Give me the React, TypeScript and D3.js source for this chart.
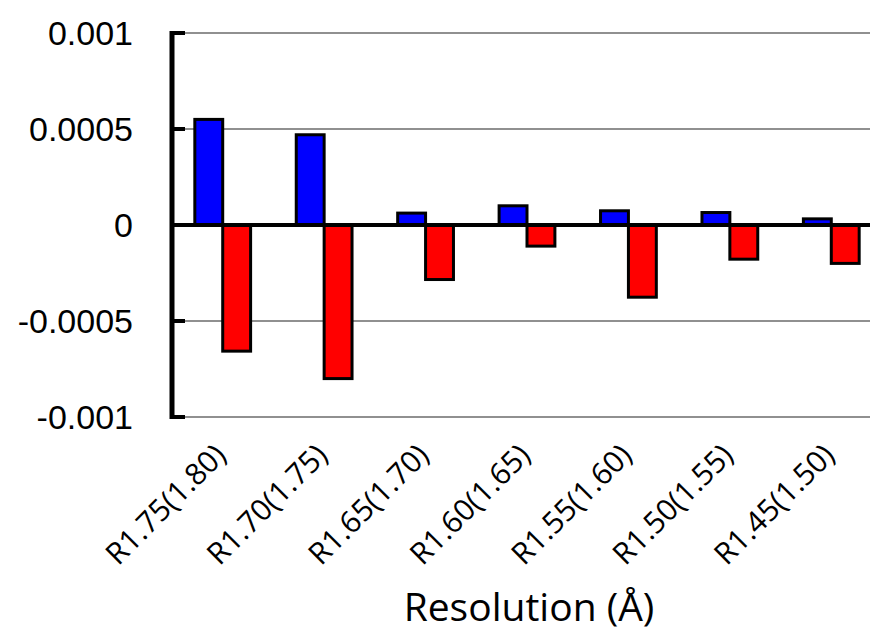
import React from "react";
import * as d3 from "d3";

const categories = ["R1.75(1.80)", "R1.70(1.75)", "R1.65(1.70)", "R1.60(1.65)", "R1.55(1.60)", "R1.50(1.55)", "R1.45(1.50)"];
const blueValues = [0.00055, 0.00047, 0.000062, 0.0001, 0.000074, 0.000065, 0.000032];
const redValues = [-0.000657, -0.0008, -0.000284, -0.00011, -0.000376, -0.000178, -0.0002];
const yTicks = [0.001, 0.0005, 0, -0.0005, -0.001];
const yTickLabels = ["0.001", "0.0005", "0", "-0.0005", "-0.001"];
const xTitle = "Resolution (Å)";

const W = 870;
const H = 635;
const left = 172;
const right = 882;
const top = 33;
const bottom = 417;

export default function App() {
  const x = d3.scaleBand<string>().domain(categories).range([left, right]).paddingInner(0.45).paddingOuter(0.225);
  const xs = d3.scaleBand<string>().domain(["blue", "red"]).range([0, x.bandwidth()]);
  const y = d3.scaleLinear().domain([-0.001, 0.001]).range([bottom, top]);

  const bars: { key: string; s: string; v: number; color: string }[] = [];
  categories.forEach((c, i) => {
    bars.push({ key: c, s: "blue", v: blueValues[i], color: "#0000FF" });
    bars.push({ key: c, s: "red", v: redValues[i], color: "#FF0000" });
  });

  return (
    <svg width={W} height={H} style={{ position: "absolute", left: 0, top: 0, background: "#fff" }}>
      <rect x={0} y={0} width={W} height={H} fill="#fff" />
      {yTicks.filter((t) => t !== 0).map((t) => (
        <line key={"g" + t} x1={left} x2={right} y1={y(t)} y2={y(t)} stroke="#222" strokeWidth={1.2} />
      ))}
      {bars.map((b, i) => {
        const bx = (x(b.key) as number) + (xs(b.s) as number);
        const y0 = y(0);
        const y1 = y(b.v);
        return (
          <rect
            key={i}
            x={bx}
            y={Math.min(y0, y1)}
            width={xs.bandwidth()}
            height={Math.abs(y1 - y0)}
            fill={b.color}
            stroke="#000"
            strokeWidth={3}
          />
        );
      })}
      <line x1={left} x2={right} y1={y(0)} y2={y(0)} stroke="#000" strokeWidth={4} />
      <line x1={left} x2={left} y1={top - 2} y2={bottom + 2} stroke="#000" strokeWidth={5} />
      {yTicks.map((t, i) => (
        <g key={"t" + t}>
          <line x1={left} x2={left + 13} y1={y(t)} y2={y(t)} stroke="#000" strokeWidth={4} />
          <text
            x={133}
            y={y(t)}
            textAnchor="end"
            dominantBaseline="central"
            fontFamily="Liberation Sans, Arial, sans-serif"
            fontSize={34}
            fill="#000"
          >
            {yTickLabels[i]}
          </text>
        </g>
      ))}
      {categories.map((c) => {
        const cx = (x(c) as number) + x.bandwidth() / 2;
        const ax = cx + 5;
        const ay = 457;
        return (
          <text
            key={"c" + c}
            x={ax}
            y={ay}
            transform={`rotate(-45, ${ax}, ${ay})`}
            textAnchor="end"
            fontFamily="Open Sans, sans-serif"
            fontSize={30}
            fill="#000"
          >
            {c}
          </text>
        );
      })}
      <text x={(left + right) / 2 + 2} y={621} textAnchor="middle" fontFamily="Open Sans, sans-serif" fontSize={39} fill="#000">
        {xTitle}
      </text>
    </svg>
  );
}
